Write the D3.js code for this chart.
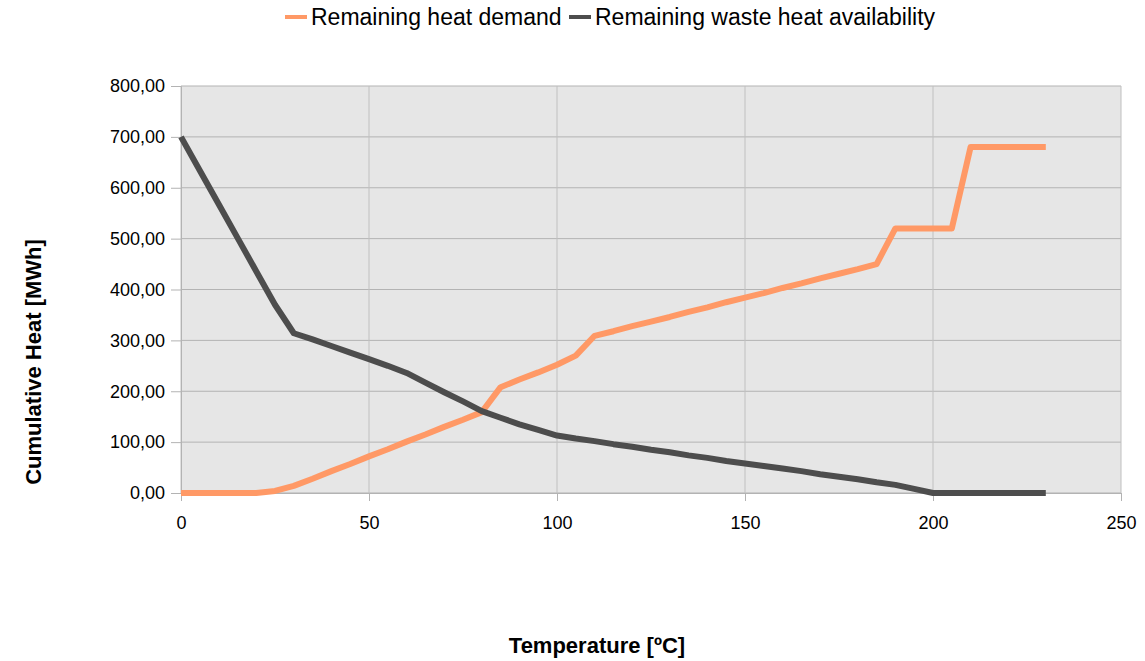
<!DOCTYPE html>
<html>
<head>
<meta charset="utf-8">
<script src="https://cdn.jsdelivr.net/npm/d3@7"></script>
<style>
  body { margin: 0; background: #fff; }
  text { font-family: "Liberation Sans", Arial, sans-serif; }
</style>
</head>
<body>
<div class="chart"></div>
<script>
// temperature steps (ºC)
var temps = [0, 5, 10, 15, 20, 25, 30, 35, 40, 45, 50, 55, 60, 65, 70, 75, 80, 85, 90, 95,
             100, 105, 110, 115, 120, 125, 130, 135, 140, 145, 150, 155, 160, 165, 170, 175,
             180, 185, 190, 195, 200, 205, 210, 215, 220, 225, 230];
// remaining heat demand (MWh)
var demand = [0, 0, 0, 0, 0, 4, 14, 28, 43, 57, 72, 86, 101, 115, 130, 144, 159, 208, 223, 237,
              252, 270, 309, 318, 328, 337, 346, 356, 365, 375, 384, 393, 403, 412, 422, 431,
              440, 450, 520, 520, 520, 520, 680, 680, 680, 680, 680];
// remaining waste heat availability (MWh)
var waste = [700, 634, 568, 502, 436, 370, 314, 302, 289, 276, 263, 250, 236, 217, 198, 180, 161, 148, 135, 124,
             113, 107, 102, 96, 91, 85, 80, 74, 69, 63, 58, 53, 48, 43, 37, 32,
             27, 21, 16, 8, 0, 0, 0, 0, 0, 0, 0];
var seriesNames = ["Remaining heat demand", "Remaining waste heat availability"];
var seriesColors = ["#ff9966", "#4d4d4d"];
var xTicks = [0, 50, 100, 150, 200, 250];
var yTicks = [0, 100, 200, 300, 400, 500, 600, 700, 800];

var svgWidth = 1145, svgHeight = 661;
var margin = { top: 86, right: 24, bottom: 168, left: 181 };
var chartWidth = svgWidth - margin.left - margin.right;
var chartHeight = svgHeight - margin.top - margin.bottom;

var svg = d3.select(".chart").append("svg")
    .attr("width", svgWidth)
    .attr("height", svgHeight);

var chartGroup = svg.append("g")
    .attr("transform", `translate(${margin.left}, ${margin.top})`);

var xScale = d3.scaleLinear().domain([0, 250]).range([0, chartWidth]);
var yScale = d3.scaleLinear().domain([0, 800]).range([chartHeight, 0]);

// plot background
chartGroup.append("rect")
    .attr("width", chartWidth)
    .attr("height", chartHeight)
    .attr("fill", "#e6e6e6");

// grid lines
chartGroup.append("g").selectAll("line.hg")
    .data(yTicks).enter().append("line")
    .attr("x1", 0).attr("x2", chartWidth)
    .attr("y1", d => yScale(d)).attr("y2", d => yScale(d))
    .attr("stroke", "#b3b3b3").attr("stroke-width", 1);
chartGroup.append("g").selectAll("line.vg")
    .data(xTicks).enter().append("line")
    .attr("y1", 0).attr("y2", chartHeight)
    .attr("x1", d => xScale(d)).attr("x2", d => xScale(d))
    .attr("stroke", "#c0c0c0").attr("stroke-width", 1);

// axes
var fmt = d => d3.format(".2f")(d).replace(".", ",");
var yAxis = d3.axisLeft(yScale).tickValues(yTicks).tickFormat(fmt).tickSize(10).tickPadding(6);
var xAxis = d3.axisBottom(xScale).tickValues(xTicks).tickSize(8).tickPadding(15);

var gy = chartGroup.append("g").call(yAxis);
var gx = chartGroup.append("g")
    .attr("transform", `translate(0, ${chartHeight})`)
    .call(xAxis);
[gx, gy].forEach(g => {
    g.select(".domain").attr("stroke", "#b3b3b3");
    g.selectAll(".tick line").attr("stroke", "#b3b3b3");
    g.selectAll(".tick text")
        .attr("fill", "#000")
        .style("font-size", "18px")
        .style("font-family", "'Liberation Sans', Arial, sans-serif");
});

// lines
var series = [demand, waste];
series.forEach((vals, k) => {
    var line = d3.line()
        .x((d, i) => xScale(temps[i]))
        .y(d => yScale(d));
    chartGroup.append("path")
        .datum(vals)
        .attr("d", line)
        .attr("fill", "none")
        .attr("stroke", seriesColors[k])
        .attr("stroke-width", 6)
        .attr("stroke-linejoin", "round");
});

// legend
var legend = svg.append("g").attr("transform", "translate(285, 17)");
var legendX = [0, 284];
seriesNames.forEach((name, k) => {
    var g = legend.append("g").attr("transform", `translate(${legendX[k]}, 0)`);
    g.append("line")
        .attr("x1", 0).attr("x2", 22)
        .attr("y1", 0).attr("y2", 0)
        .attr("stroke", seriesColors[k])
        .attr("stroke-width", 4);
    g.append("text")
        .attr("x", 26).attr("y", 8)
        .style("font-size", "23px")
        .attr("fill", "#000")
        .text(name);
});

// axis titles
svg.append("text")
    .attr("transform", "translate(41, 362) rotate(-90)")
    .attr("text-anchor", "middle")
    .style("font-size", "22px")
    .style("font-weight", "bold")
    .text("Cumulative Heat [MWh]");

svg.append("text")
    .attr("x", 597).attr("y", 653)
    .attr("text-anchor", "middle")
    .style("font-size", "22px")
    .style("font-weight", "bold")
    .text("Temperature [ºC]");
</script>
</body>
</html>
